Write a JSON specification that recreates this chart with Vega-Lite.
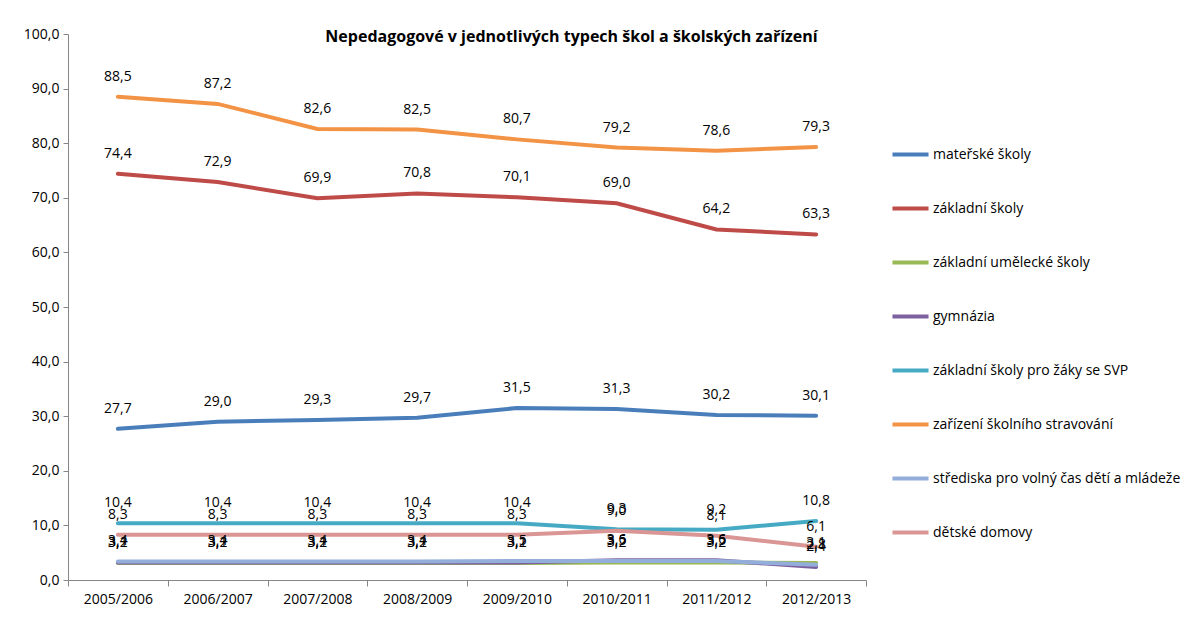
{
  "$schema": "https://vega.github.io/schema/vega-lite/v6.json",
  "autosize": "none",
  "width": 798,
  "height": 546,
  "padding": {"left": 68, "top": 34, "right": 338, "bottom": 38},
  "background": "white",
  "config": {"view": {"stroke": null}, "font": "Open Sans",
    "locale": {"number": {"decimal": ",", "thousands": " ", "grouping": [3], "currency": ["", " Kč"]}}},
  "title": {"text": "Nepedagogové v jednotlivých typech škol a školských zařízení", "font": "Open Sans", "fontSize": 16, "fontWeight": "bold", "color": "#000000", "anchor": "start", "dx": 302, "offset": -26, "baseline": "middle"},
  "data": {"values": [
    {"rok": "2005/2006", "typ": "mateřské školy", "v": 27.7},
    {"rok": "2006/2007", "typ": "mateřské školy", "v": 29.0},
    {"rok": "2007/2008", "typ": "mateřské školy", "v": 29.3},
    {"rok": "2008/2009", "typ": "mateřské školy", "v": 29.7},
    {"rok": "2009/2010", "typ": "mateřské školy", "v": 31.5},
    {"rok": "2010/2011", "typ": "mateřské školy", "v": 31.3},
    {"rok": "2011/2012", "typ": "mateřské školy", "v": 30.2},
    {"rok": "2012/2013", "typ": "mateřské školy", "v": 30.1},
    {"rok": "2005/2006", "typ": "základní školy", "v": 74.4},
    {"rok": "2006/2007", "typ": "základní školy", "v": 72.9},
    {"rok": "2007/2008", "typ": "základní školy", "v": 69.9},
    {"rok": "2008/2009", "typ": "základní školy", "v": 70.8},
    {"rok": "2009/2010", "typ": "základní školy", "v": 70.1},
    {"rok": "2010/2011", "typ": "základní školy", "v": 69.0},
    {"rok": "2011/2012", "typ": "základní školy", "v": 64.2},
    {"rok": "2012/2013", "typ": "základní školy", "v": 63.3},
    {"rok": "2005/2006", "typ": "základní umělecké školy", "v": 3.1},
    {"rok": "2006/2007", "typ": "základní umělecké školy", "v": 3.1},
    {"rok": "2007/2008", "typ": "základní umělecké školy", "v": 3.1},
    {"rok": "2008/2009", "typ": "základní umělecké školy", "v": 3.1},
    {"rok": "2009/2010", "typ": "základní umělecké školy", "v": 3.1},
    {"rok": "2010/2011", "typ": "základní umělecké školy", "v": 3.2},
    {"rok": "2011/2012", "typ": "základní umělecké školy", "v": 3.2},
    {"rok": "2012/2013", "typ": "základní umělecké školy", "v": 3.1},
    {"rok": "2005/2006", "typ": "gymnázia", "v": 3.2},
    {"rok": "2006/2007", "typ": "gymnázia", "v": 3.2},
    {"rok": "2007/2008", "typ": "gymnázia", "v": 3.2},
    {"rok": "2008/2009", "typ": "gymnázia", "v": 3.2},
    {"rok": "2009/2010", "typ": "gymnázia", "v": 3.2},
    {"rok": "2010/2011", "typ": "gymnázia", "v": 3.6},
    {"rok": "2011/2012", "typ": "gymnázia", "v": 3.6},
    {"rok": "2012/2013", "typ": "gymnázia", "v": 2.4},
    {"rok": "2005/2006", "typ": "základní školy pro žáky se SVP", "v": 10.4},
    {"rok": "2006/2007", "typ": "základní školy pro žáky se SVP", "v": 10.4},
    {"rok": "2007/2008", "typ": "základní školy pro žáky se SVP", "v": 10.4},
    {"rok": "2008/2009", "typ": "základní školy pro žáky se SVP", "v": 10.4},
    {"rok": "2009/2010", "typ": "základní školy pro žáky se SVP", "v": 10.4},
    {"rok": "2010/2011", "typ": "základní školy pro žáky se SVP", "v": 9.3},
    {"rok": "2011/2012", "typ": "základní školy pro žáky se SVP", "v": 9.2},
    {"rok": "2012/2013", "typ": "základní školy pro žáky se SVP", "v": 10.8},
    {"rok": "2005/2006", "typ": "zařízení školního stravování", "v": 88.5},
    {"rok": "2006/2007", "typ": "zařízení školního stravování", "v": 87.2},
    {"rok": "2007/2008", "typ": "zařízení školního stravování", "v": 82.6},
    {"rok": "2008/2009", "typ": "zařízení školního stravování", "v": 82.5},
    {"rok": "2009/2010", "typ": "zařízení školního stravování", "v": 80.7},
    {"rok": "2010/2011", "typ": "zařízení školního stravování", "v": 79.2},
    {"rok": "2011/2012", "typ": "zařízení školního stravování", "v": 78.6},
    {"rok": "2012/2013", "typ": "zařízení školního stravování", "v": 79.3},
    {"rok": "2005/2006", "typ": "střediska pro volný čas dětí a mládeže", "v": 3.4},
    {"rok": "2006/2007", "typ": "střediska pro volný čas dětí a mládeže", "v": 3.4},
    {"rok": "2007/2008", "typ": "střediska pro volný čas dětí a mládeže", "v": 3.4},
    {"rok": "2008/2009", "typ": "střediska pro volný čas dětí a mládeže", "v": 3.4},
    {"rok": "2009/2010", "typ": "střediska pro volný čas dětí a mládeže", "v": 3.5},
    {"rok": "2010/2011", "typ": "střediska pro volný čas dětí a mládeže", "v": 3.5},
    {"rok": "2011/2012", "typ": "střediska pro volný čas dětí a mládeže", "v": 3.5},
    {"rok": "2012/2013", "typ": "střediska pro volný čas dětí a mládeže", "v": 2.8},
    {"rok": "2005/2006", "typ": "dětské domovy", "v": 8.3},
    {"rok": "2006/2007", "typ": "dětské domovy", "v": 8.3},
    {"rok": "2007/2008", "typ": "dětské domovy", "v": 8.3},
    {"rok": "2008/2009", "typ": "dětské domovy", "v": 8.3},
    {"rok": "2009/2010", "typ": "dětské domovy", "v": 8.3},
    {"rok": "2010/2011", "typ": "dětské domovy", "v": 9.0},
    {"rok": "2011/2012", "typ": "dětské domovy", "v": 8.1},
    {"rok": "2012/2013", "typ": "dětské domovy", "v": 6.1}
  ]},
  "encoding": {
    "x": {"field": "rok", "type": "ordinal", "sort": null, "bandPosition": 0.5,
      "scale": {"type": "band", "paddingInner": 0, "paddingOuter": 0},
      "axis": {"title": null, "labelAngle": 0, "tickBand": "extent", "labelFont": "Open Sans", "labelFontSize": 14, "labelColor": "#000000", "domainColor": "#868686", "tickColor": "#868686", "tickSize": 6, "labelPadding": 6}},
    "y": {"field": "v", "type": "quantitative",
      "scale": {"domain": [0, 100], "nice": false},
      "axis": {"title": null, "values": [0,10,20,30,40,50,60,70,80,90,100], "grid": false, "format": ".1f", "labelFont": "Open Sans", "labelFontSize": 14, "labelColor": "#000000", "domainColor": "#868686", "tickColor": "#868686", "tickSize": 5, "labelPadding": 4}},
    "color": {"field": "typ", "type": "nominal",
      "scale": {"domain": ["mateřské školy", "základní školy", "základní umělecké školy", "gymnázia", "základní školy pro žáky se SVP", "zařízení školního stravování", "střediska pro volný čas dětí a mládeže", "dětské domovy"],
        "range": ["#4A7EBB", "#BE4B48", "#98B954", "#7D60A0", "#46AAC5", "#F39346", "#93AEDA", "#D99694"]},
      "legend": {"title": null, "orient": "none", "legendX": 822, "legendY": 100, "symbolType": "stroke", "symbolStrokeWidth": 4, "symbolSize": 1300, "labelFont": "Open Sans", "labelFontSize": 14, "labelColor": "#000000", "labelLimit": 0, "rowPadding": 25, "labelOffset": 2}}
  },
  "layer": [
    {"mark": {"type": "line", "strokeWidth": 4, "strokeCap": "round"}},
    {"mark": {"type": "text", "dy": -20, "fontSize": 14, "font": "Open Sans", "color": "#000000"},
      "encoding": {"text": {"field": "v", "type": "quantitative", "format": ".1f"}, "color": {"value": "#000000"}}}
  ]
}
